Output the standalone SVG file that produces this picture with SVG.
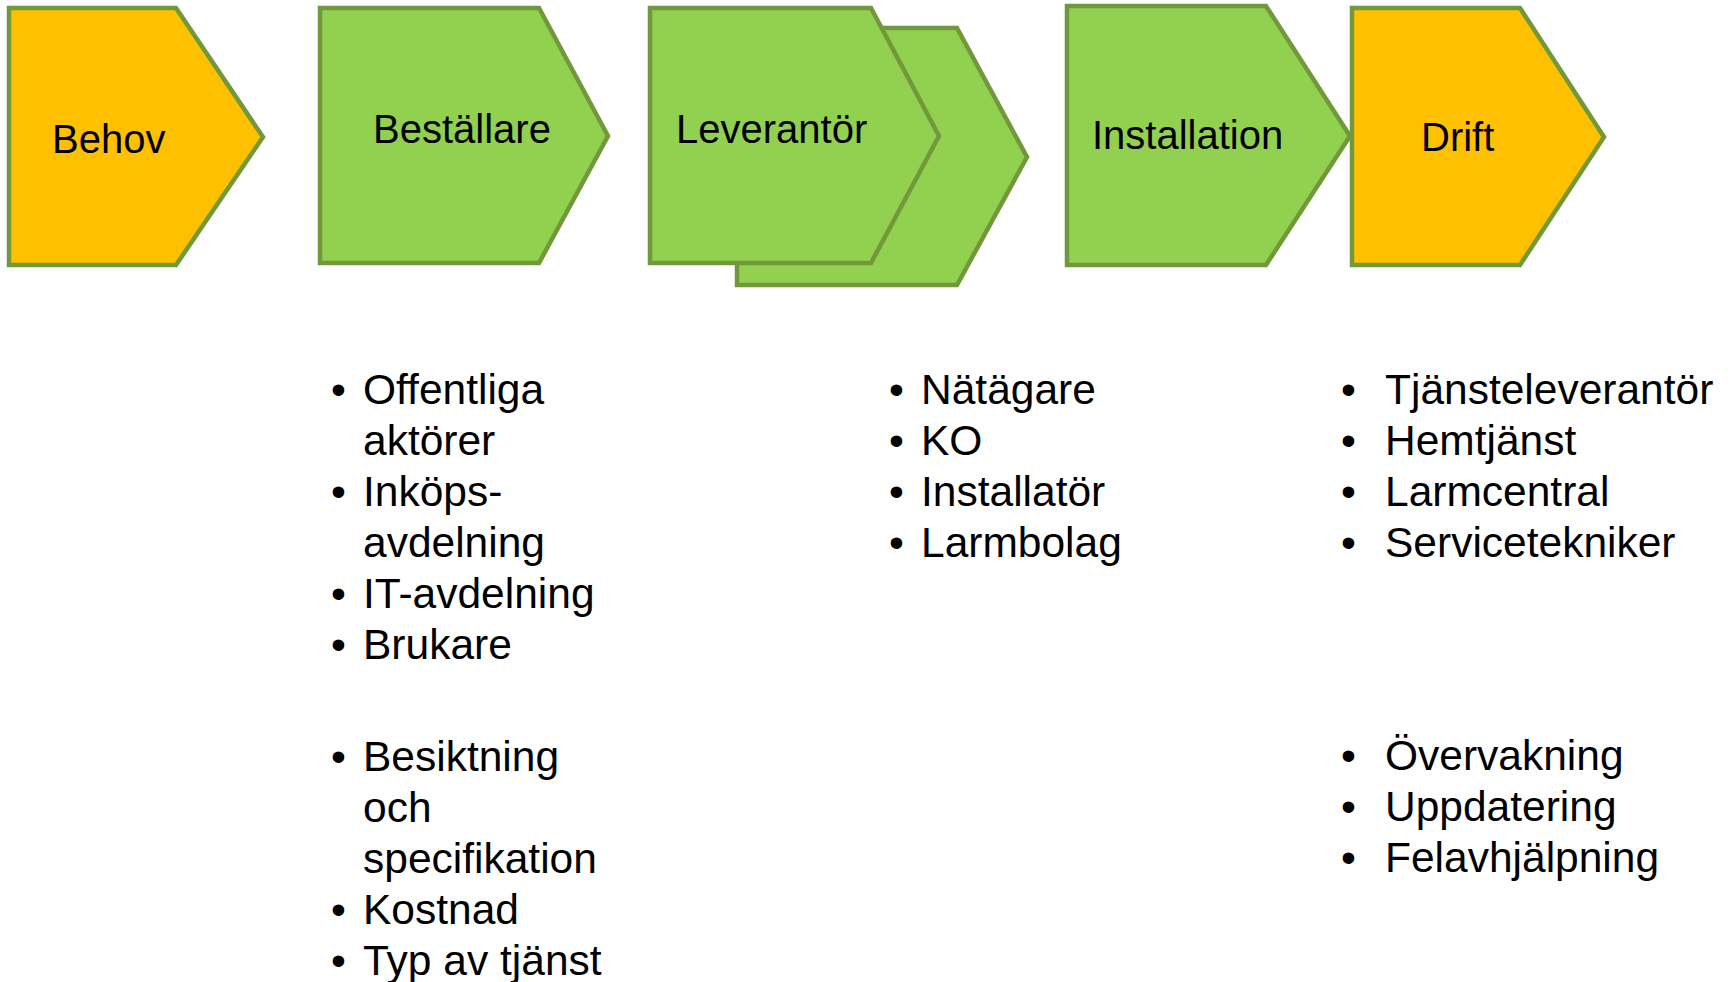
<svg xmlns="http://www.w3.org/2000/svg" width="1731" height="982" viewBox="0 0 1731 982">
<style>
.sh{stroke:#71983B;stroke-width:4.5;stroke-linejoin:miter}
.or{fill:#FFC000}
.gr{fill:#92D050}
.lbl{font-family:"Liberation Sans",Arial,sans-serif;font-size:40px;fill:#000}
.bl{font-family:"Liberation Sans",Arial,sans-serif;font-size:42.5px;fill:#000}
</style>
<rect width="1731" height="982" fill="#fff"/>
<g id="behov">
<polygon class="sh or" points="9,8 176,8 263,137 176,265 9,265"/>
<text class="lbl" x="52" y="153">Behov</text>
</g>
<g id="bestallare">
<polygon class="sh gr" points="320,8 539,8 608,136 539,263 320,263"/>
<text class="lbl" x="373" y="143">Beställare</text>
</g>
<g id="leverantor">
<polygon class="sh gr" points="737,28 957,28 1027,157 957,285 737,285"/>
<polygon class="sh gr" points="650,8 871,8 939,136 871,263 650,263"/>
<text class="lbl" x="676" y="143">Leverantör</text>
</g>
<g id="installation">
<polygon class="sh gr" points="1067,6 1266,6 1350,136 1266,265 1067,265"/>
<text class="lbl" x="1092" y="149">Installation</text>
</g>
<g id="drift">
<polygon class="sh or" points="1352,8 1520,8 1604,137 1520,265 1352,265"/>
<text class="lbl" x="1421" y="151">Drift</text>
</g>
<g id="connectors"></g>
<g id="list-bestallare">
<text class="bl" x="331" y="404">•</text><text class="bl" x="363" y="404">Offentliga</text>
<text class="bl" x="363" y="455">aktörer</text>
<text class="bl" x="331" y="506">•</text><text class="bl" x="363" y="506">Inköps-</text>
<text class="bl" x="363" y="557">avdelning</text>
<text class="bl" x="331" y="608">•</text><text class="bl" x="363" y="608">IT-avdelning</text>
<text class="bl" x="331" y="659">•</text><text class="bl" x="363" y="659">Brukare</text>
<text class="bl" x="331" y="771">•</text><text class="bl" x="363" y="771">Besiktning</text>
<text class="bl" x="363" y="822">och</text>
<text class="bl" x="363" y="873">specifikation</text>
<text class="bl" x="331" y="924">•</text><text class="bl" x="363" y="924">Kostnad</text>
<text class="bl" x="331" y="975">•</text><text class="bl" x="363" y="975">Typ av tjänst</text>
</g>
<g id="list-leverantor">
<text class="bl" x="889" y="404">•</text><text class="bl" x="921" y="404">Nätägare</text>
<text class="bl" x="889" y="455">•</text><text class="bl" x="921" y="455">KO</text>
<text class="bl" x="889" y="506">•</text><text class="bl" x="921" y="506">Installatör</text>
<text class="bl" x="889" y="557">•</text><text class="bl" x="921" y="557">Larmbolag</text>
</g>
<g id="list-drift">
<text class="bl" x="1341" y="404">•</text><text class="bl" x="1385" y="404">Tjänsteleverantör</text>
<text class="bl" x="1341" y="455">•</text><text class="bl" x="1385" y="455">Hemtjänst</text>
<text class="bl" x="1341" y="506">•</text><text class="bl" x="1385" y="506">Larmcentral</text>
<text class="bl" x="1341" y="557">•</text><text class="bl" x="1385" y="557">Servicetekniker</text>
<text class="bl" x="1341" y="770">•</text><text class="bl" x="1385" y="770">Övervakning</text>
<text class="bl" x="1341" y="821">•</text><text class="bl" x="1385" y="821">Uppdatering</text>
<text class="bl" x="1341" y="872">•</text><text class="bl" x="1385" y="872">Felavhjälpning</text>
</g>
</svg>
